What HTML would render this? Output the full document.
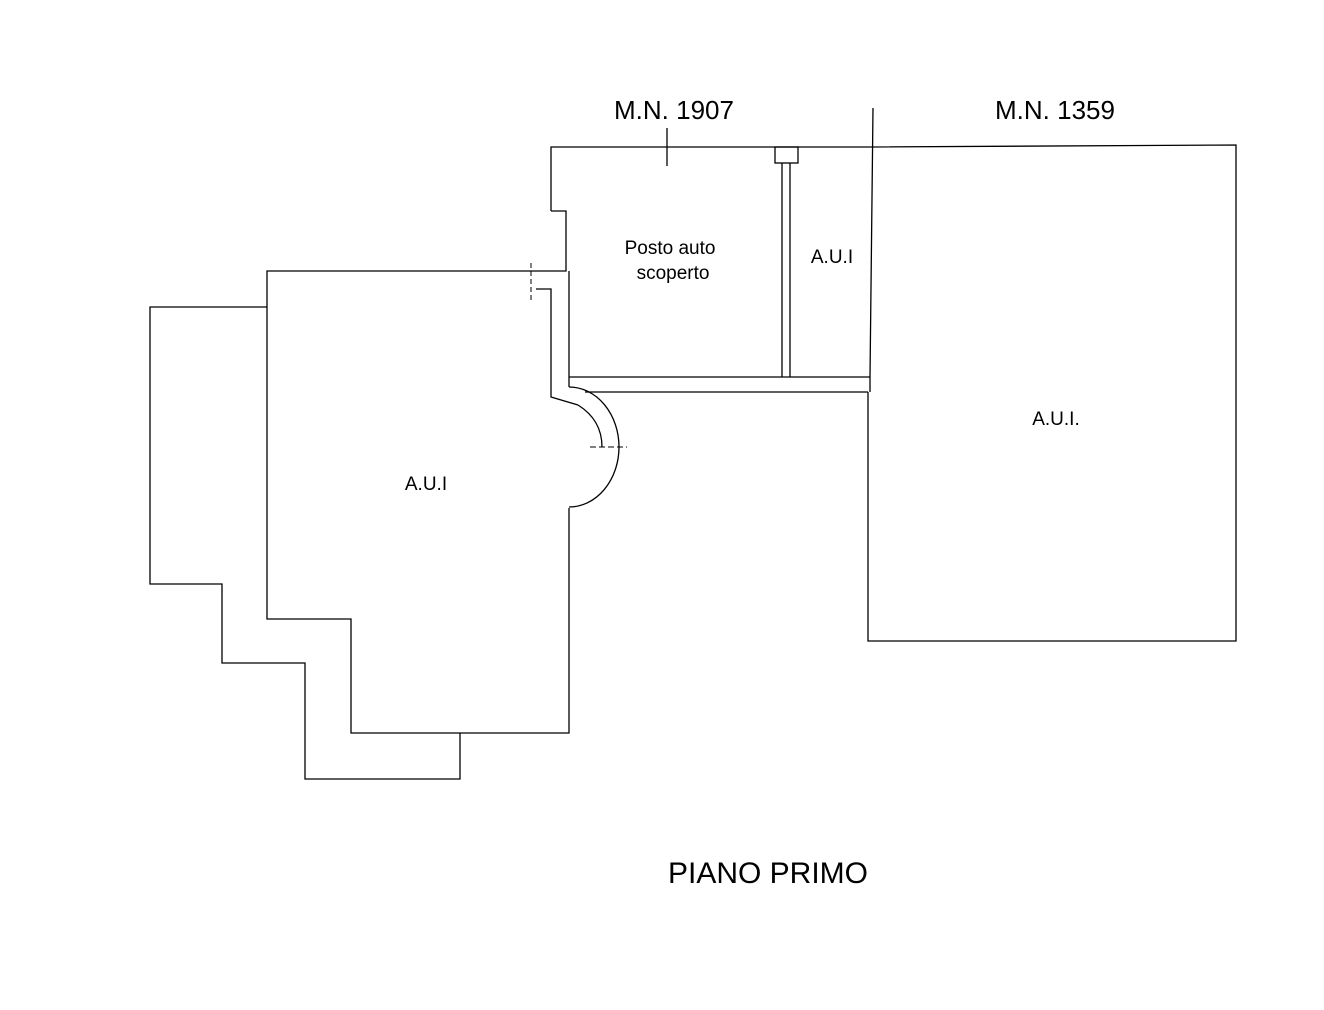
<!DOCTYPE html>
<html><head><style>body{margin:0;background:#fff}svg{display:block}</style></head><body>
<svg width="1324" height="1010" xmlns="http://www.w3.org/2000/svg" font-family="Liberation Sans, sans-serif">
<g fill="none" stroke="#000" stroke-width="1.3">
<polyline points="551,211 551,147 873,147 1236,145 1236,641 868,641 868,392"/>
<polyline points="551,211 566,211 566,271 267,271 267,619 351,619 351,733 569,733 569,508"/>
<polyline points="569,271 569,387"/>
<path d="M569,387 A50,60 0 0 1 569,507"/>
<polyline points="536,289 551,289 551,397 578,405"/>
<path d="M578,405 Q602,420 602,447"/>
<line x1="569" y1="377" x2="870" y2="377"/>
<line x1="585" y1="392" x2="868" y2="392"/>
<line x1="873" y1="108" x2="870" y2="377"/>
<line x1="870" y1="377" x2="870" y2="392"/>
<line x1="667" y1="128" x2="667" y2="166"/>
<rect x="775" y="147" width="23" height="16"/>
<line x1="782" y1="163" x2="782" y2="377"/>
<line x1="790" y1="163" x2="790" y2="377"/>
<polyline points="267,307 150,307 150,584 222,584 222,663 305,663 305,779 460,779 460,733"/>
<line x1="531" y1="263" x2="531" y2="300" stroke-dasharray="5,3" stroke-width="1"/>
<line x1="590" y1="447" x2="627" y2="447" stroke-dasharray="6,3" stroke-width="1"/>
</g>
<g fill="#000" text-anchor="middle">
<text x="674" y="119" font-size="26">M.N. 1907</text>
<text x="1055" y="119" font-size="26">M.N. 1359</text>
<text x="670" y="254" font-size="19">Posto auto</text>
<text x="673" y="279" font-size="19">scoperto</text>
<text x="832" y="263" font-size="19">A.U.I</text>
<text x="1056" y="425" font-size="19">A.U.I.</text>
<text x="426" y="490" font-size="19">A.U.I</text>
<text x="768" y="883" font-size="30">PIANO PRIMO</text>
</g>
</svg>
</body></html>
